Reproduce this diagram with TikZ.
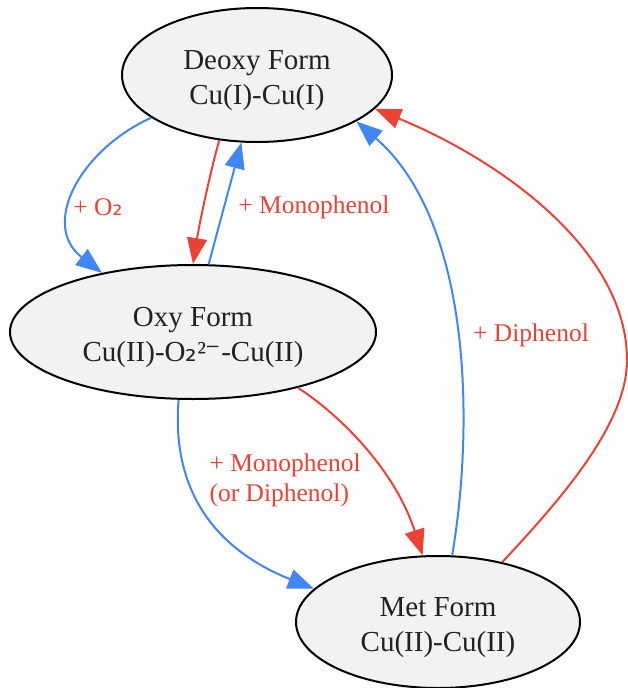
\documentclass[tikz,border=0pt]{standalone}
\usepackage{fontspec}
\setmainfont{Liberation Serif}
\newfontfamily\djvsans{DejaVu Sans}
\usetikzlibrary{shapes.geometric,arrows.meta}
\definecolor{redarc}{HTML}{EA4335}
\definecolor{bluearc}{HTML}{4285F4}
\definecolor{stfill}{HTML}{F1F2F4}
\definecolor{sttext}{HTML}{222222}
\newcommand{\subtwo}{{\djvsans ₂}}
\newcommand{\toppad}{\rule{0pt}{31pt}}
\tikzset{
  state/.style={ellipse,draw=black,line width=2pt,fill=stfill,text=sttext,
    inner sep=0pt,align=center,font=\fontsize{29}{35}\selectfont},
  lbl/.style={text=redarc,font=\fontsize{25.5}{30}\selectfont},
  rarc/.style={draw=redarc,line width=2pt},
  barc/.style={draw=bluearc,line width=2pt}
}
\begin{document}
\begin{tikzpicture}[x=1pt,y=-1pt,>={Triangle[length=26pt,width=20pt]}]
    \useasboundingbox (0,0) rectangle (627,688);
    \node[state,minimum width=270pt,minimum height=134pt] (deoxy) at (257,75) {\toppad Deoxy Form\\Cu(I)-Cu(I)};
    \node[state,minimum width=366pt,minimum height=134pt] (oxy) at (193,332) {\toppad Oxy Form\\Cu(II)-O\subtwo²{\djvsans ⁻}-Cu(II)};
    \node[state,minimum width=284pt,minimum height=132pt] (met) at (438,622) {\toppad Met Form\\Cu(II)-Cu(II)};
    % deoxy <-> oxy
    \draw[barc,->] (deoxy.-158) .. controls (80,150) and (40,225) .. (oxy.147);
    \draw[rarc,->] (deoxy.-120) .. controls (212,165) and (200,220) .. (oxy.90);
    \draw[barc,->] (oxy.77) -- (deoxy.-103);
    \node[lbl] (lo2) at (98,207) {+ O\subtwo};
    \node[lbl] (lmono) at (314,207) {+ Monophenol};
    % oxy -> met
    \draw[rarc,->] (oxy.-28) .. controls (340,415) and (395,470) .. (met.103);
    \draw[barc,->] (oxy.-102) .. controls (172,480) and (205,545) .. (met.165);
    \node[lbl,align=left,anchor=west] (lmet) at (206,480) {+ Monophenol\\(or Diphenol)};
    % met -> deoxy
    \draw[barc,->] (met.78) .. controls (475,420) and (470,220) .. (deoxy.-25);
    \draw[rarc,->] (met.43) .. controls (570,490) and (627,420) .. (627,360)
        .. controls (627,250) and (500,160) .. (deoxy.-16);
    \node[lbl] (ldi) at (531,335) {+ Diphenol};
\end{tikzpicture}
\end{document}
